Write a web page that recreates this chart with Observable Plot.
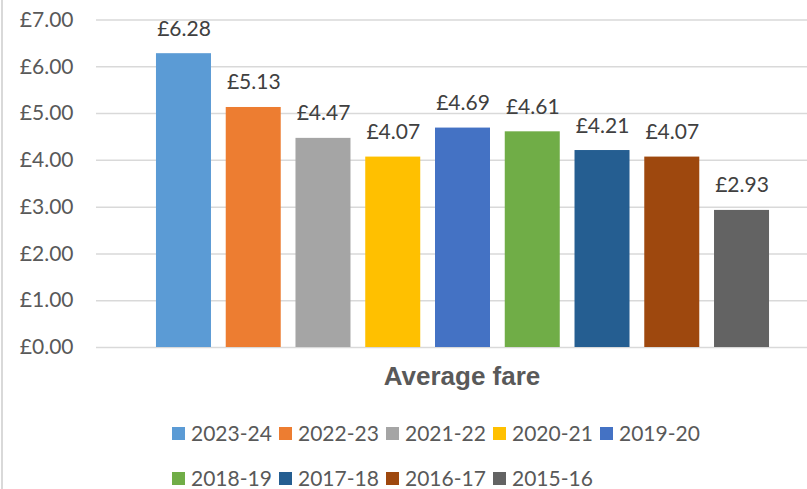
<!DOCTYPE html>
<html>
<head>
<meta charset="utf-8">
<script src="https://cdn.jsdelivr.net/npm/d3@7"></script>
<script src="https://cdn.jsdelivr.net/npm/@observablehq/plot@0.6"></script>
<style>
  html, body { margin: 0; padding: 0; background: #fff; }
  #wrap { position: relative; width: 807px; height: 489px; overflow: hidden; font-family: Lato, "Open Sans", sans-serif; }
  #border { position: absolute; left: 1px; top: 0; width: 2px; height: 489px; background: #d9d9d9; }
  #chart { position: absolute; left: 0; top: 0; }
  #xtitle { position: absolute; left: 312px; width: 300px; top: 361px; text-align: center; font-family: "Liberation Sans", Arial, sans-serif; font-weight: bold; font-size: 26px; color: #595959; line-height: 30px; }
  .row { position: absolute; left: 172px; height: 24px; display: flex; align-items: center; }
  .item { display: inline-flex; align-items: center; width: 107px; font-size: 21px; color: #595959; line-height: 24px; }
  .sw { width: 13px; height: 13px; margin-right: 6px; flex: none; }
</style>
</head>
<body>
<div id="wrap">
  <div id="border"></div>
  <div id="chart"></div>
  <div id="xtitle">Average fare</div>
  <div class="row" id="row1" style="top:421px"></div>
  <div class="row" id="row2" style="top:466px"></div>
</div>
<script>
const years = ["2023-24", "2022-23", "2021-22", "2020-21", "2019-20", "2018-19", "2017-18", "2016-17", "2015-16"];
const fares = [6.28, 5.13, 4.47, 4.07, 4.69, 4.61, 4.21, 4.07, 2.93];
const colors = ["#5B9BD5", "#ED7D31", "#A5A5A5", "#FFC000", "#4472C4", "#70AD47", "#255E91", "#9E480E", "#636363"];
const yTicks = [0, 1, 2, 3, 4, 5, 6, 7];
const category = "Average fare";

const data = years.map((y, i) => ({year: y, value: fares[i]}));
const fmt = v => "£" + v.toFixed(2);

const chart = Plot.plot({
  width: 807,
  height: 400,
  marginLeft: 96,
  marginRight: 0,
  marginTop: 19.5,
  marginBottom: 53,
  style: {fontFamily: "Lato, 'Open Sans', sans-serif", fontSize: "21px", background: "transparent"},
  x: {domain: years, range: [148.6, 776.4], paddingInner: 0.2115, paddingOuter: 0.1057, round: false, axis: null},
  y: {domain: [0, 7], label: null},
  color: {domain: years, range: colors},
  marks: [
    Plot.gridY(yTicks, {stroke: "#d9d9d9", strokeOpacity: 1, strokeWidth: 1.5}),
    Plot.axisY(yTicks, {tickSize: 0, tickPadding: 23, tickFormat: fmt, fill: "#595959", label: null}),
    Plot.barY(data, {x: "year", y: "value", fill: "year"}),
    Plot.text(data, {x: "year", y: "value", text: d => fmt(d.value), lineAnchor: "bottom", dy: -18, fill: "#404040"})
  ]
});
document.getElementById("chart").appendChild(chart);
document.getElementById("xtitle").textContent = category;

function addItems(rowId, idxs) {
  const row = document.getElementById(rowId);
  idxs.forEach(i => {
    const it = document.createElement("span");
    it.className = "item";
    const sw = document.createElement("span");
    sw.className = "sw";
    sw.style.background = colors[i];
    const t = document.createElement("span");
    t.textContent = years[i];
    it.appendChild(sw);
    it.appendChild(t);
    row.appendChild(it);
  });
}
addItems("row1", [0, 1, 2, 3, 4]);
addItems("row2", [5, 6, 7, 8]);
</script>
</body>
</html>
